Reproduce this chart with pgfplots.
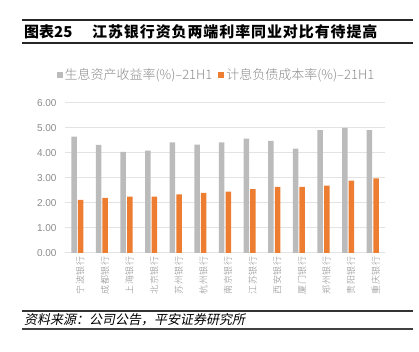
\documentclass[border=0pt]{standalone}
\usepackage{pgfplots}
\pgfplotsset{compat=1.18}
\usepackage{fontspec}
\setmainfont{Liberation Sans}
\newfontfamily\cjk{Noto Sans CJK SC}
\newfontfamily\cjktitle{Noto Sans CJK SC}[LetterSpace=6]
\newfontfamily\cjkl{Noto Sans CJK SC}[UprightFont=* Light]
\newfontfamily\cjklab{Noto Sans CJK SC}[UprightFont=* Light, LetterSpace=6]
\newfontfamily\cjkit{Noto Sans CJK SC}[FakeSlant=0.2]
\definecolor{graybar}{HTML}{BBBBBB}
\definecolor{orangebar}{HTML}{ED7D31}
\definecolor{ticktext}{HTML}{8A8A8A}
\definecolor{gridc}{HTML}{E3E3E3}
\begin{document}
\begin{tikzpicture}[x=1pt,y=1pt]
\path (0,0) rectangle (419,352);
\draw[line width=1.5pt, black!85] (22,332) -- (413,332);
\node[anchor=base west, inner sep=0pt, font=\cjk\bfseries\fontsize{15}{18}\selectfont] at (24,314) {图表25};
\node[anchor=base west, inner sep=0pt, font=\cjktitle\bfseries\fontsize{15}{18}\selectfont] at (92,314) {江苏银行资负两端利率同业对比有待提高};
\draw[line width=1.2pt, black!85] (22,309) -- (413,309);
\begin{axis}[at={(65pt,99pt)}, anchor=south west, scale only axis,
  width=320pt, height=150pt,
  xmin=-0.5, xmax=12.5, ymin=0, ymax=6,
  ytick={0,1,2,3,4,5,6},
  xtick={0,...,12},
  xticklabels={宁波银行,成都银行,上海银行,北京银行,苏州银行,杭州银行,南京银行,江苏银行,西安银行,厦门银行,郑州银行,贵阳银行,重庆银行},
  axis line style={draw=none},
  major tick length=0pt,
  ymajorgrids, grid style={color=gridc, line width=1pt},
  yticklabel style={color=ticktext, font=\fontsize{10}{12}\selectfont, xshift=-5pt},
  xticklabel style={rotate=90, anchor=east, color=ticktext, font=\cjklab\fontsize{9}{9}\selectfont, yshift=-3pt},
  /pgf/number format/.cd, fixed, fixed zerofill, precision=2, assume math mode=true,
  /pgfplots/.cd,
  ybar, bar width=5.5pt,
  legend columns=2,
  legend image code/.code={\fill[#1] (0pt,-3pt) rectangle (6pt,3pt);},
  legend style={at={(0.473,1.187)}, anchor=center, draw=none, fill=none,
    font=\cjkl\fontsize{13}{15}\selectfont, text=ticktext,
    /tikz/every even column/.append style={column sep=4pt}},
]
\addplot[fill=graybar, draw=none, bar shift=-3.3pt] coordinates {
(0,4.65) (1,4.32) (2,4.04) (3,4.09) (4,4.42) (5,4.33) (6,4.42) (7,4.57) (8,4.48) (9,4.17) (10,4.91) (11,5.00) (12,4.91)};
\addlegendentry{生息资产收益率(\%)–21H1}
\addplot[fill=orangebar, draw=none, bar shift=3.3pt] coordinates {
(0,2.12) (1,2.20) (2,2.25) (3,2.25) (4,2.34) (5,2.40) (6,2.45) (7,2.55) (8,2.64) (9,2.64) (10,2.69) (11,2.89) (12,2.98)};
\addlegendentry{计息负债成本率(\%)–21H1}
\end{axis}
\draw[line width=1.5pt, black!80] (22,41) -- (413,41);
\node[anchor=base west, inner sep=0pt, font=\cjkit\fontsize{13}{15}\selectfont] at (24,27) {资料来源：公司公告，平安证券研究所};
\draw[line width=2pt, black!75] (22,23) -- (413,23);
\end{tikzpicture}
\end{document}
